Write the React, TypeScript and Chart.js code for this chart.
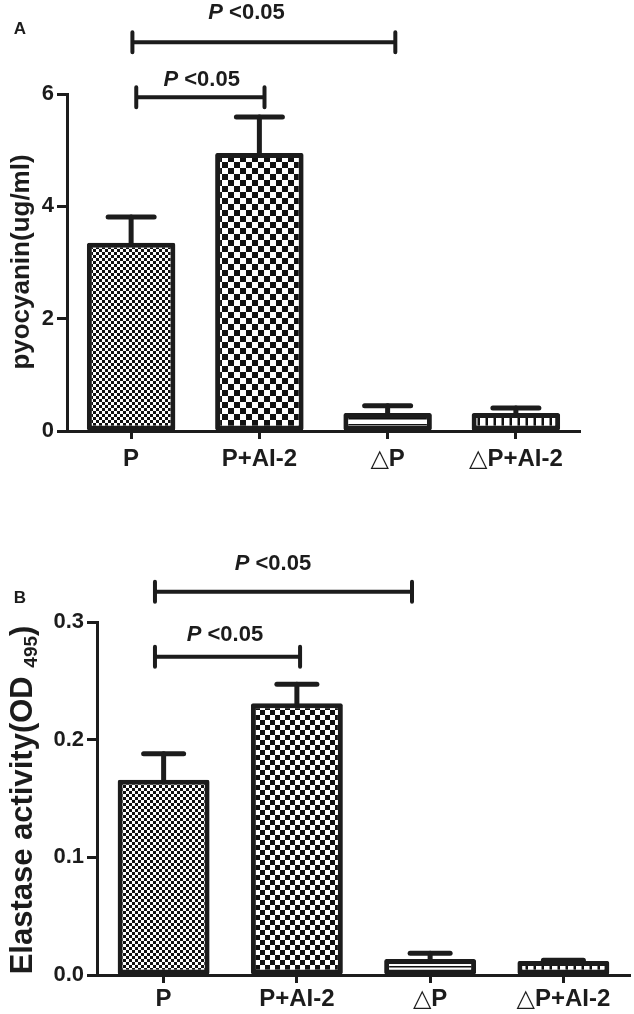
import React, { useEffect, useRef } from "react";
import { Chart, registerables } from "chart.js";

Chart.register(...registerables);

const FONT = "'Liberation Sans', Arial, 'DejaVu Sans', sans-serif";
const INK = "#1c1c1c";

// ---------- data ----------
const categories = ["P", "P+AI-2", "\u25B3P", "\u25B3P+AI-2"];

// Panel A: pyocyanin (ug/ml)
const pyocyaninMean = [3.35, 4.95, 0.32, 0.32];
const pyocyaninErrorTop = [3.81, 5.59, 0.45, 0.41];
const pyocyaninTicks = [0, 2, 4, 6];
const pyocyaninBrackets = [
  { from: 0.01, to: 2.06, y: 6.92, labelAt: 0.9, labelY: 7.44, text: "<0.05" },
  { from: 0.04, to: 1.04, y: 5.94, labelAt: 0.55, labelY: 6.25, text: "<0.05" },
];

// Panel B: elastase activity (OD495)
const elastaseMean = [0.166, 0.231, 0.0135, 0.012];
const elastaseErrorTop = [0.188, 0.247, 0.0185, 0.0125];
const elastaseTicks = [0, 0.1, 0.2, 0.3];
const elastaseBrackets = [
  { from: -0.065, to: 1.864, y: 0.3257, labelAt: 0.82, labelY: 0.3495, text: "<0.05" },
  { from: -0.065, to: 1.024, y: 0.2704, labelAt: 0.46, labelY: 0.289, text: "<0.05" },
];

// ---------- patterns ----------
function makePattern(kind: string, cell: number): CanvasPattern {
  const c = document.createElement("canvas");
  if (kind === "checker") {
    c.width = cell * 2;
    c.height = cell * 2;
  } else if (kind === "hlines") {
    c.width = 4;
    c.height = cell;
  } else {
    c.width = cell;
    c.height = 4;
  }
  const ctx = c.getContext("2d")!;
  ctx.fillStyle = "#ffffff";
  ctx.fillRect(0, 0, c.width, c.height);
  ctx.fillStyle = "#111111";
  if (kind === "checker") {
    ctx.fillRect(0, 0, cell, cell);
    ctx.fillRect(cell, cell, cell, cell);
  } else if (kind === "hlines") {
    ctx.fillRect(0, cell - 2, 4, 1.5);
  } else {
    ctx.fillRect(cell - 2.5, 0, 2.5, 4);
  }
  return ctx.createPattern(c, "repeat")!;
}

type Bracket = { from: number; to: number; y: number; labelAt: number; labelY: number; text: string };

type PanelSpec = {
  top: number;
  height: number;
  padTop: number;
  padRight: number;
  yWidth: number;
  xHeight: number;
  means: number[];
  errTop: number[];
  ticks: number[];
  decimals: number;
  brackets: Bracket[];
  fineCell: number;
  coarseCell: number;
  capWidth: number;
  xTickPadding: number;
  yTickSize: number;
  panelLabel: string;
  panelLabelPos: [number, number];
  title: { main: string; sub: string; close: string; size: number; subSize: number; x: number; y: number };
};

function Panel({ spec }: { spec: PanelSpec }) {
  const ref = useRef<HTMLCanvasElement | null>(null);
  useEffect(() => {
    const canvas = ref.current!;
    const patterns = [
      makePattern("checker", spec.fineCell),
      makePattern("checker", spec.coarseCell),
      makePattern("hlines", 6),
      makePattern("vlines", 8),
    ];

    const errorBars = {
      id: "errorBars",
      afterDatasetsDraw(chart: any) {
        const ctx = chart.ctx;
        const ys = chart.scales.y;
        const meta = chart.getDatasetMeta(0);
        ctx.save();
        ctx.strokeStyle = INK;
        ctx.lineWidth = 5;
        ctx.lineCap = "round";
        meta.data.forEach((el: any, i: number) => {
          const yTop = ys.getPixelForValue(spec.errTop[i]);
          const yBar = el.y;
          if (yBar - yTop > 1) {
            ctx.beginPath();
            ctx.moveTo(el.x, yBar);
            ctx.lineTo(el.x, yTop);
            ctx.stroke();
          }
          ctx.beginPath();
          ctx.moveTo(el.x - spec.capWidth / 2, yTop);
          ctx.lineTo(el.x + spec.capWidth / 2, yTop);
          ctx.stroke();
        });
        ctx.restore();
      },
    };

    const annotations = {
      id: "annotations",
      afterDraw(chart: any) {
        const ctx = chart.ctx;
        const xs = chart.scales.x;
        const ys = chart.scales.y;
        ctx.save();
        ctx.strokeStyle = INK;
        ctx.fillStyle = INK;
        ctx.lineWidth = 4;
        ctx.lineCap = "round";
        spec.brackets.forEach((b) => {
          const x1 = xs.getPixelForValue(b.from);
          const x2 = xs.getPixelForValue(b.to);
          const y = ys.getPixelForValue(b.y);
          ctx.beginPath();
          ctx.moveTo(x1, y);
          ctx.lineTo(x2, y);
          ctx.moveTo(x1, y - 10);
          ctx.lineTo(x1, y + 10);
          ctx.moveTo(x2, y - 10);
          ctx.lineTo(x2, y + 10);
          ctx.stroke();
          const ly = ys.getPixelForValue(b.labelY);
          const lx = xs.getPixelForValue(b.labelAt);
          const pFont = `italic bold 22px ${FONT}`;
          const rFont = `bold 22px ${FONT}`;
          ctx.font = pFont;
          const wP = ctx.measureText("P").width;
          ctx.font = rFont;
          const rest = " " + b.text;
          const wR = ctx.measureText(rest).width;
          const start = lx - (wP + wR) / 2;
          ctx.textBaseline = "middle";
          ctx.textAlign = "left";
          ctx.font = pFont;
          ctx.fillText("P", start, ly);
          ctx.font = rFont;
          ctx.fillText(rest, start + wP, ly);
        });
        // panel letter
        ctx.font = `bold 17px ${FONT}`;
        ctx.textAlign = "center";
        ctx.textBaseline = "middle";
        ctx.fillText(spec.panelLabel, spec.panelLabelPos[0], spec.panelLabelPos[1]);
        // y-axis title (rotated, with optional subscript)
        const t = spec.title;
        ctx.translate(t.x, t.y);
        ctx.rotate(-Math.PI / 2);
        ctx.textAlign = "left";
        ctx.textBaseline = "alphabetic";
        const mainF = `bold ${t.size}px ${FONT}`;
        const subF = `bold ${t.subSize}px ${FONT}`;
        ctx.font = mainF;
        const wMain = ctx.measureText(t.main).width;
        const wClose = ctx.measureText(t.close).width;
        ctx.font = subF;
        const wSub = t.sub ? ctx.measureText(t.sub).width : 0;
        const total = wMain + wSub + wClose;
        let px = -total / 2;
        ctx.font = mainF;
        ctx.fillText(t.main, px, 0);
        px += wMain;
        if (t.sub) {
          ctx.font = subF;
          ctx.fillText(t.sub, px, 5);
          px += wSub;
        }
        ctx.font = mainF;
        ctx.fillText(t.close, px, 0);
        ctx.restore();
      },
    };

    const chart = new Chart(canvas, {
      type: "bar",
      data: {
        labels: categories,
        datasets: [
          {
            data: spec.means,
            backgroundColor: patterns as any,
            borderColor: INK,
            borderWidth: 5,
            borderSkipped: false,
            borderRadius: 2,
            barPercentage: 0.69,
            categoryPercentage: 1,
          },
        ],
      },
      options: {
        responsive: false,
        animation: false,
        layout: { padding: { top: spec.padTop, right: spec.padRight, left: 0, bottom: 0 } },
        plugins: { legend: { display: false }, tooltip: { enabled: false } },
        scales: {
          x: {
            grid: {
              offset: false,
              drawOnChartArea: false,
              drawTicks: true,
              tickLength: 8,
              tickWidth: 3,
              tickColor: INK,
            },
            border: { display: true, width: 3, color: INK },
            ticks: {
              color: INK,
              padding: spec.xTickPadding,
              font: { family: FONT, size: 24, weight: "bold" },
              maxRotation: 0,
              autoSkip: false,
            },
            afterFit: (s: any) => {
              s.height = spec.xHeight;
            },
          },
          y: {
            min: spec.ticks[0],
            max: spec.ticks[spec.ticks.length - 1],
            afterBuildTicks: (s: any) => {
              s.ticks = spec.ticks.map((v) => ({ value: v }));
            },
            grid: {
              drawOnChartArea: false,
              drawTicks: true,
              tickLength: 10,
              tickWidth: 3,
              tickColor: INK,
            },
            border: { display: true, width: 3, color: INK },
            ticks: {
              color: INK,
              padding: 3,
              font: { family: FONT, size: spec.yTickSize, weight: "bold" },
              callback: (v: any) => Number(v).toFixed(spec.decimals),
            },
            afterFit: (s: any) => {
              s.width = spec.yWidth;
            },
          },
        },
      },
      plugins: [errorBars, annotations],
    });
    return () => chart.destroy();
  }, [spec]);

  return (
    <canvas
      ref={ref}
      width={634}
      height={spec.height}
      style={{ position: "absolute", left: 0, top: spec.top, width: 634, height: spec.height }}
    />
  );
}

const panelA: PanelSpec = {
  top: 0,
  height: 480,
  padTop: 94,
  padRight: 54,
  yWidth: 67,
  xHeight: 49,
  means: pyocyaninMean,
  errTop: pyocyaninErrorTop,
  ticks: pyocyaninTicks,
  decimals: 0,
  brackets: pyocyaninBrackets,
  fineCell: 3,
  coarseCell: 6,
  capWidth: 46,
  xTickPadding: 6,
  yTickSize: 22,
  panelLabel: "A",
  panelLabelPos: [20, 29],
  title: { main: "pyocyanin(ug/ml)", sub: "", close: "", size: 26, subSize: 17, x: 29, y: 262 },
};

const panelB: PanelSpec = {
  top: 500,
  height: 514,
  padTop: 122,
  padRight: 4,
  yWidth: 97,
  xHeight: 39,
  means: elastaseMean,
  errTop: elastaseErrorTop,
  ticks: elastaseTicks,
  decimals: 1,
  brackets: elastaseBrackets,
  fineCell: 3,
  coarseCell: 5,
  capWidth: 40,
  xTickPadding: 2,
  yTickSize: 22,
  panelLabel: "B",
  panelLabelPos: [20, 98],
  title: { main: "Elastase activity(OD ", sub: "495", close: ")", size: 31, subSize: 19, x: 32, y: 300 },
};

export default function App() {
  return (
    <div style={{ position: "absolute", left: 0, top: 0, width: 634, height: 1014, background: "#fff" }}>
      <Panel spec={panelA} />
      <Panel spec={panelB} />
    </div>
  );
}
